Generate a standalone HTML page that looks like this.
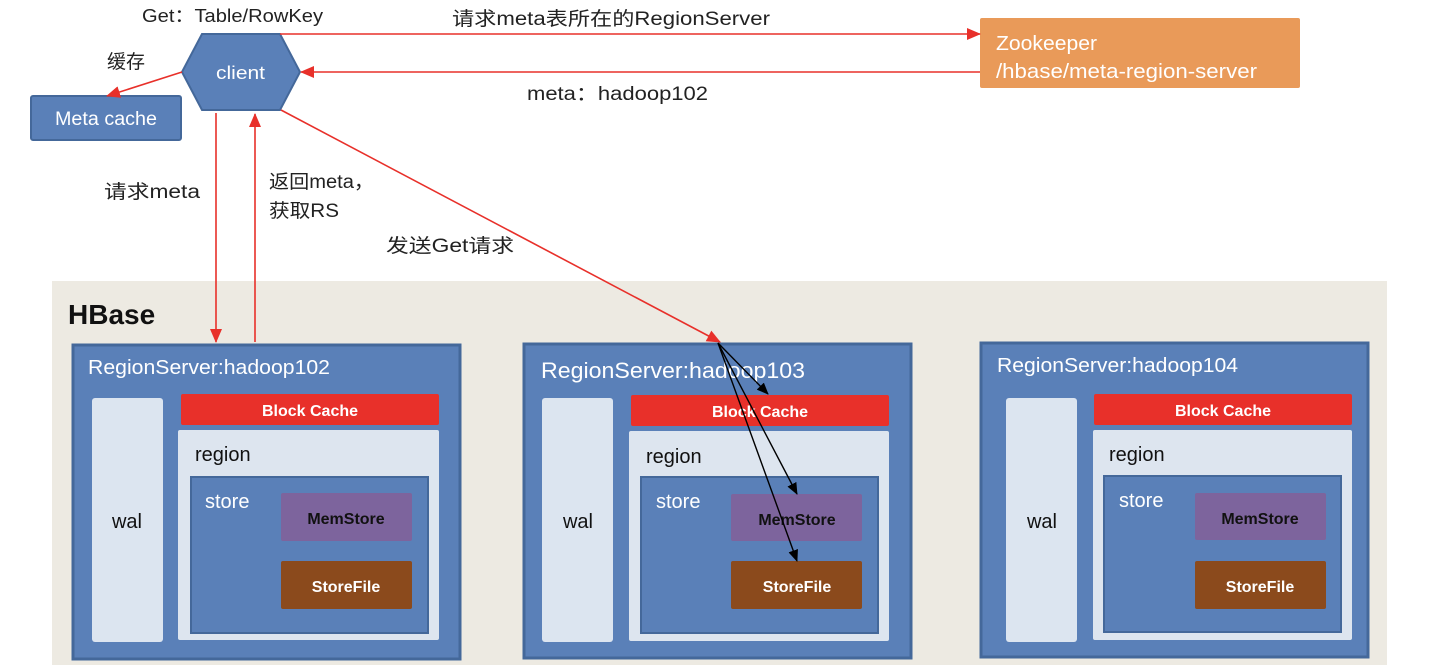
<!DOCTYPE html>
<html><head><meta charset="utf-8"><style>
html,body{margin:0;padding:0;background:#fff;}
svg{display:block;}
text{font-family:"Liberation Sans","Noto Sans CJK SC",sans-serif;}
</style></head><body>
<svg width="1429" height="665" viewBox="0 0 1429 665" xmlns="http://www.w3.org/2000/svg">
<defs>
<marker id="ar" markerWidth="14" markerHeight="12" refX="13" refY="6" orient="auto" markerUnits="userSpaceOnUse"><path d="M0,0 L14,6 L0,12 z" fill="#e8302a"/></marker>
<marker id="ab" markerWidth="12" markerHeight="10" refX="11" refY="5" orient="auto" markerUnits="userSpaceOnUse"><path d="M0,0 L12,5 L0,10 z" fill="#000"/></marker>
</defs>
<rect x="52" y="281" width="1335" height="384" fill="#edeae2"/>
<text x="68" y="324" font-size="28" font-weight="bold" fill="#111">HBase</text>

<g>
<rect x="73" y="345" width="387" height="314" fill="#5a80b8" stroke="#44689a" stroke-width="3"/>
<text x="88" y="374" font-size="20" fill="#fff" textLength="242" lengthAdjust="spacingAndGlyphs">RegionServer:hadoop102</text>
<rect x="92" y="398" width="71" height="244" rx="3" fill="#dce5f0"/>
<text x="127" y="528" font-size="20" fill="#111" text-anchor="middle">wal</text>
<rect x="181" y="394" width="258" height="31" rx="2" fill="#e8302a"/>
<text x="310" y="416" font-size="16" font-weight="bold" fill="#fff" text-anchor="middle">Block Cache</text>
<rect x="178" y="430" width="261" height="210" rx="2" fill="#dde5ef"/>
<text x="195" y="461" font-size="20" fill="#111">region</text>
<rect x="191" y="477" width="237" height="156" fill="#5a80b8" stroke="#44689a" stroke-width="2"/>
<text x="205" y="508" font-size="20" fill="#fff">store</text>
<rect x="281" y="493" width="131" height="48" rx="2" fill="#7d649d"/>
<text x="346" y="524" font-size="16" font-weight="bold" fill="#111" text-anchor="middle">MemStore</text>
<rect x="281" y="561" width="131" height="48" rx="2" fill="#8b4a1c"/>
<text x="346" y="592" font-size="16" font-weight="bold" fill="#fff" text-anchor="middle">StoreFile</text>
</g>

<g transform="translate(451,0)">
<rect x="73" y="344" width="387" height="314" fill="#5a80b8" stroke="#44689a" stroke-width="3"/>
<text x="90" y="378" font-size="22" fill="#fff" textLength="264" lengthAdjust="spacingAndGlyphs">RegionServer:hadoop103</text>
<rect x="91" y="398" width="71" height="244" rx="3" fill="#dce5f0"/>
<text x="127" y="528" font-size="20" fill="#111" text-anchor="middle">wal</text>
<rect x="180" y="395" width="258" height="31" rx="2" fill="#e8302a"/>
<text x="309" y="417" font-size="16" font-weight="bold" fill="#fff" text-anchor="middle">Block Cache</text>
<rect x="178" y="431" width="260" height="210" rx="2" fill="#dde5ef"/>
<text x="195" y="463" font-size="20" fill="#111">region</text>
<rect x="190" y="477" width="237" height="156" fill="#5a80b8" stroke="#44689a" stroke-width="2"/>
<text x="205" y="508" font-size="20" fill="#fff">store</text>
<rect x="280" y="494" width="131" height="47" rx="2" fill="#7d649d"/>
<text x="346" y="525" font-size="16" font-weight="bold" fill="#111" text-anchor="middle">MemStore</text>
<rect x="280" y="561" width="131" height="48" rx="2" fill="#8b4a1c"/>
<text x="346" y="592" font-size="16" font-weight="bold" fill="#fff" text-anchor="middle">StoreFile</text>
</g>

<g transform="translate(908,-1)">
<rect x="73" y="344" width="387" height="314" fill="#5a80b8" stroke="#44689a" stroke-width="3"/>
<text x="89" y="373" font-size="20" fill="#fff" textLength="241" lengthAdjust="spacingAndGlyphs">RegionServer:hadoop104</text>
<rect x="98" y="399" width="71" height="244" rx="3" fill="#dce5f0"/>
<text x="134" y="529" font-size="20" fill="#111" text-anchor="middle">wal</text>
<rect x="186" y="395" width="258" height="31" rx="2" fill="#e8302a"/>
<text x="315" y="417" font-size="16" font-weight="bold" fill="#fff" text-anchor="middle">Block Cache</text>
<rect x="185" y="431" width="259" height="210" rx="2" fill="#dde5ef"/>
<text x="201" y="462" font-size="20" fill="#111">region</text>
<rect x="196" y="477" width="237" height="156" fill="#5a80b8" stroke="#44689a" stroke-width="2"/>
<text x="211" y="508" font-size="20" fill="#fff">store</text>
<rect x="287" y="494" width="131" height="47" rx="2" fill="#7d649d"/>
<text x="352" y="525" font-size="16" font-weight="bold" fill="#111" text-anchor="middle">MemStore</text>
<rect x="287" y="562" width="131" height="48" rx="2" fill="#8b4a1c"/>
<text x="352" y="593" font-size="16" font-weight="bold" fill="#fff" text-anchor="middle">StoreFile</text>
</g>

<!-- client -->
<polygon points="182,72 202,34 280,34 300,72 280,110 202,110" fill="#5a80b8" stroke="#44689a" stroke-width="2"/>
<text x="216" y="79" font-size="18" fill="#fff" textLength="49" lengthAdjust="spacingAndGlyphs">client</text>
<rect x="31" y="96" width="150" height="44" rx="2" fill="#5a80b8" stroke="#44689a" stroke-width="2"/>
<text x="55" y="125" font-size="19" fill="#fff" textLength="102" lengthAdjust="spacingAndGlyphs">Meta cache</text>
<rect x="980" y="18" width="320" height="70" rx="2" fill="#e99a59"/>
<text x="996" y="50" font-size="20" fill="#fff" textLength="101" lengthAdjust="spacingAndGlyphs">Zookeeper</text>
<text x="996" y="78" font-size="20" fill="#fff" textLength="261" lengthAdjust="spacingAndGlyphs">/hbase/meta-region-server</text>

<!-- red arrows -->
<g stroke="#e8302a" stroke-width="1.6" fill="none">
<line x1="280" y1="34" x2="980" y2="34" marker-end="url(#ar)"/>
<line x1="980" y1="72" x2="301" y2="72" marker-end="url(#ar)"/>
<line x1="182" y1="72" x2="107" y2="96" marker-end="url(#ar)"/>
<line x1="216" y1="113" x2="216" y2="342" marker-end="url(#ar)"/>
<line x1="255" y1="342" x2="255" y2="114" marker-end="url(#ar)"/>
<line x1="281" y1="110" x2="720" y2="342" marker-end="url(#ar)"/>
</g>
<g stroke="#000" stroke-width="1.4" fill="none">
<line x1="718" y1="343" x2="768" y2="394" marker-end="url(#ab)"/>
<line x1="718" y1="343" x2="797" y2="494" marker-end="url(#ab)"/>
<line x1="718" y1="343" x2="797" y2="561" marker-end="url(#ab)"/>
</g>

<g fill="#222">
<text x="142" y="22" font-size="18" textLength="181" lengthAdjust="spacingAndGlyphs">Get：Table/RowKey</text>
<text x="107" y="68" font-size="19">缓存</text>
<text x="452" y="25" font-size="19" textLength="318" lengthAdjust="spacingAndGlyphs">请求meta表所在的RegionServer</text>
<text x="527" y="100" font-size="19" textLength="181" lengthAdjust="spacingAndGlyphs">meta：hadoop102</text>
<text x="104" y="198" font-size="19" textLength="96" lengthAdjust="spacingAndGlyphs">请求meta</text>
<text x="269" y="188" font-size="19" textLength="105" lengthAdjust="spacingAndGlyphs">返回meta，</text>
<text x="269" y="217" font-size="19" textLength="70" lengthAdjust="spacingAndGlyphs">获取RS</text>
<text x="386" y="252" font-size="19" textLength="128" lengthAdjust="spacingAndGlyphs">发送Get请求</text>
</g>
</svg>
</body></html>
